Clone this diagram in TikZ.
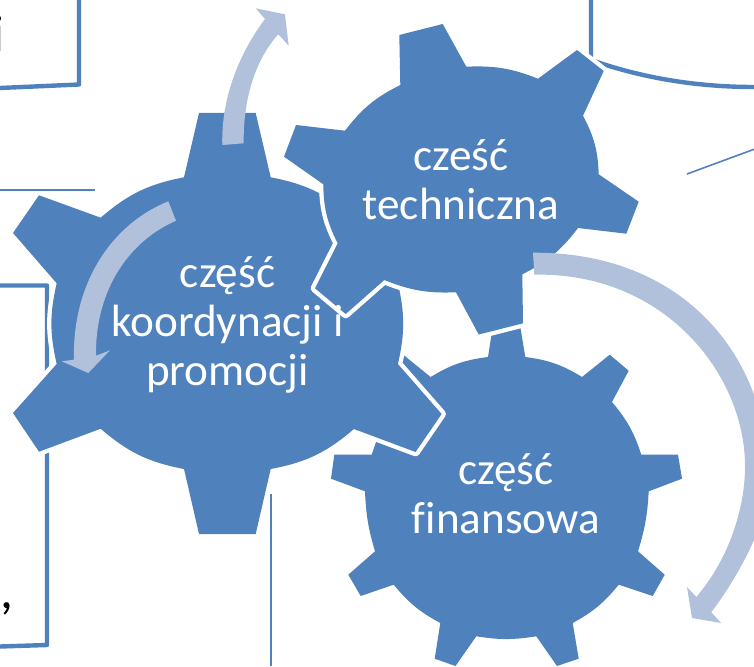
\documentclass[tikz,border=0pt]{standalone}
\usepackage{fontspec}
\setmainfont{Carlito}[Ligatures=NoCommon]
\definecolor{gearblue}{HTML}{4F81BD}
\definecolor{arrowblue}{HTML}{B2C1DB}
\tikzset{
  gear/.style={fill=gearblue},
  gearw/.style={fill=gearblue,preaction={draw=white,line width=8.6pt,line join=round}},
  swoosh/.style={fill=arrowblue},
  frame/.style={draw=gearblue,line width=4.4pt,line join=round},
  thin/.style={draw=gearblue,line width=1.6pt},
  lbl/.style={text=white,align=center,inner sep=0pt,font=\fontsize{45.2}{49}\selectfont},
  blk/.style={text=black,inner sep=0pt,font=\fontsize{52}{56}\selectfont}
}
\begin{document}
\begin{tikzpicture}[x=1pt,y=-1pt]
\useasboundingbox (0,0) rectangle (754,666);
% frames
\draw[frame] (79,0) -- (79,84.5) -- (0,88);
\draw[thin] (0,190) -- (95,190);
\draw[frame] (0,285.5) -- (47,285.5) -- (47,645) -- (0,646.5);
\draw[thin] (270.7,494) -- (270.7,666);
\draw[frame] (591,0) -- (591,60) .. controls (625,72) and (680,87) .. (754,87);
\draw[thin] (687,174) -- (754,149.3);
\node[blk,anchor=base west] (letteri) at (-7.5,51.5) {i};
\node[blk,anchor=base west] (comma) at (0.5,608) {,};
% gear 3
\path[gear] (488,357) -- (493,325) -- (520,325) -- (525.3,357)
 to[bend left=12] (582,377) -- (609.7,354.7) -- (628.7,370.7) -- (612,402)
 to[bend left=11] (641.3,454.7) -- (678,454.7) -- (682,478.7) -- (648.7,491.3)
 to[bend left=7] (638,551.3) -- (664.7,574.7) -- (652.7,596) -- (618.7,584.7)
 to[bend left=11] (572.7,623) -- (578.7,658.7) -- (557,666) -- (536.3,636.3)
 to[bend left=9] (476.3,636.3) -- (455.5,666) -- (434.7,658.7) -- (440.3,623)
 to[bend left=11] (393.7,584.7) -- (360.7,596) -- (348.3,574.7) -- (375,551.3)
 to[bend left=7] (365,491.3) -- (331,478.7) -- (334.3,454.7) -- (371.7,454.7)
 to[bend left=11] (400.6,402) -- (383.9,370.7) -- (403.5,355) -- (430.6,377)
 to[bend left=12] (488,357) -- cycle;
% gear 1
\path[gearw] (184,177.3) -- (199,113) -- (255.7,113) -- (270.7,177.3)
 to[bend left=15] (353.9,217.7) -- (415.6,195.3) -- (441.6,233) -- (397.9,283.3)
 to[bend left=13] (397.9,364) -- (441.6,414) -- (415.6,452) -- (353.9,429)
 to[bend left=15] (270.7,469) -- (255.7,534) -- (199,534) -- (184,469)
 to[bend left=15] (100.7,428.7) -- (39,451.7) -- (13,413) -- (56.7,364)
 to[bend left=13] (56.7,283.3) -- (13,233) -- (39,195.3) -- (100.7,217.7)
 to[bend left=15] (184,177.3) -- cycle;
% gear 2
\path[gearw] (399.3,35) -- (442.7,24) -- (466.3,66.7)
 to[bend left=12] (538,78.7) -- (577,50) -- (603.7,71) -- (583,115.7)
 to[bend left=13] (598.7,174.3) -- (638.7,201.7) -- (626.3,233.7) -- (578,228)
 to[bend left=13] (522.3,274.3) -- (523,323.3) -- (478.7,334.5) -- (456,292.3)
 to[bend left=12] (384.3,280) -- (345.7,314) -- (315,288.3) -- (337.7,243.3)
 to[bend left=13] (323.3,184.3) -- (284,156.7) -- (296,125) -- (345,130.7)
 to[bend left=13] (400.3,85) -- cycle;
% swooshes
\path[swoosh] (222.3,145) .. controls (221,100) and (238,55) .. (265,19)
 -- (255.7,8.3) -- (285,14.3) -- (288.7,45.7) -- (278.3,34.3)
 .. controls (255,60) and (243,100) .. (243.7,143.3) -- cycle;
\path[swoosh] (168.3,201.3) .. controls (110,225) and (72,285) .. (74,359.7)
 -- (61.7,361.3) -- (88.3,373) -- (110,350.3) -- (96,355.7)
 .. controls (95,295) and (125,243) .. (176,220.7) -- cycle;
\path[swoosh] (533,252.7) .. controls (650,252) and (725,315) .. (754,394.7)
 -- (754,540) .. controls (743,565) and (728,590) .. (711.3,612.3)
 -- (721,623) -- (692,618) -- (687,587) -- (696.3,597)
 .. controls (728,560) and (745,510) .. (745,466)
 .. controls (745,375) and (665,272) .. (534.3,274.7) -- cycle;
% labels
\node[lbl] (koord) at (227.5,325) {część\\koordynacji i\\promocji};
\node[lbl] (tech) at (461,180) {cześć\\techniczna};
\node[lbl] (fin) at (506,494) {część\\finansowa};
\end{tikzpicture}
\end{document}
